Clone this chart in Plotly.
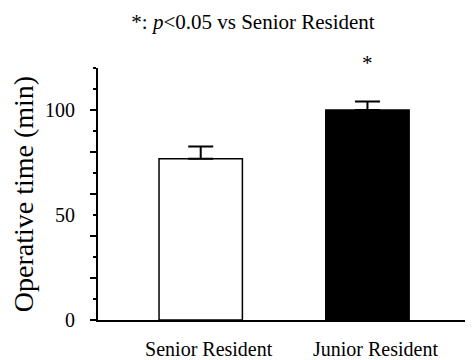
import plotly.graph_objects as go

categories = ["Senior Resident", "Junior Resident"]
means = [76.8, 100.0]
sems = [5.8, 4.0]
bar_colors = ["white", "black"]
sig_marks = ["", "*"]
y_label_ticks = [0, 50, 100]
y_major_ticks = [0, 20, 40, 60, 80, 100]

FONT = "Liberation Serif, Times New Roman, serif"

# the page body has an 8px default margin, so the figure is drawn 8px smaller
W, H = 465, 352

fig = go.Figure()
fig.add_trace(go.Bar(
    x=categories, y=means, width=0.5,
    marker=dict(color=bar_colors, line=dict(color="black", width=1.5)),
    error_y=dict(type="data", array=sems, arrayminus=[0] * len(sems), symmetric=False,
                 color="black", thickness=2, width=12.5),
    showlegend=False, hoverinfo="skip",
))
# dummy trace to host the labelled overlay axis
fig.add_trace(go.Scatter(x=[categories[0]], y=[None], yaxis="y2", mode="markers",
                         showlegend=False, hoverinfo="skip"))

for c, s in zip(categories, sig_marks):
    if s:
        fig.add_annotation(x=c, y=1.018, xref="x", yref="paper", text=s, showarrow=False,
                           font=dict(family=FONT, size=21, color="black"), yanchor="middle")

fig.update_layout(
    width=W, height=H,
    margin=dict(l=90, r=0, t=60, b=38),
    plot_bgcolor="white", paper_bgcolor="white",
    font=dict(family=FONT, color="black"),
    title=dict(text="*: <i>p</i>&lt;0.05 vs Senior Resident", x=245 / W, xref="container",
               y=1 - 14 / H, yref="container", xanchor="center", yanchor="middle",
               font=dict(family=FONT, size=21, color="black")),
    xaxis=dict(range=[-0.616, 1.633], showline=True, linecolor="black", linewidth=2,
               ticks="", showgrid=False, zeroline=False,
               tickfont=dict(family=FONT, size=20, color="black"),
               ticklabelshift=8, ticklabelstandoff=10),
    yaxis=dict(range=[0, 120], showline=True, linecolor="black", linewidth=2,
               tickvals=y_major_ticks, ticks="outside", ticklen=6, tickwidth=1.5,
               tickcolor="black", showticklabels=False, showgrid=False, zeroline=False,
               minor=dict(dtick=10, ticks="outside", ticklen=3, tickwidth=1.5,
                          tickcolor="black", showgrid=False)),
    yaxis2=dict(range=[0, 120], overlaying="y", anchor="x", side="left",
                tickvals=y_label_ticks, ticktext=[str(v) for v in y_label_ticks],
                ticks="", showline=False, showgrid=False, zeroline=False,
                ticklabelstandoff=22,
                tickfont=dict(family=FONT, size=20, color="black"),
                title=dict(text="Operative time (min)", standoff=6,
                           font=dict(family=FONT, size=28, color="black"))),
)

fig.write_html("out.html")
